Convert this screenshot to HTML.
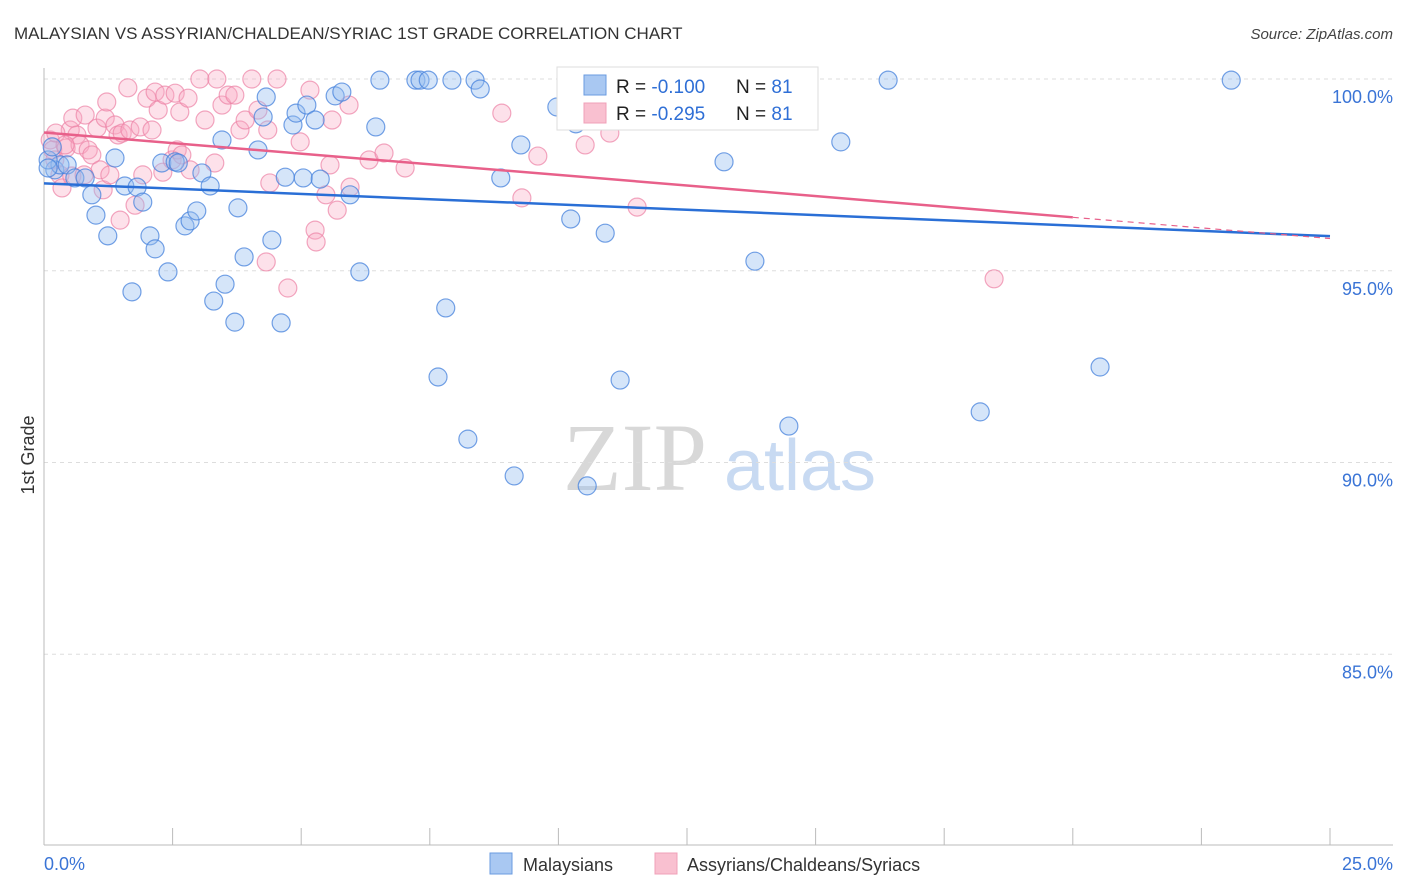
<!DOCTYPE html>
<html><head><meta charset="utf-8"><style>
body{margin:0;background:#fff;font-family:"Liberation Sans",sans-serif;}
svg{display:block}
</style></head><body>
<svg id="chart" width="1406" height="892" xmlns="http://www.w3.org/2000/svg">
<text x="14" y="39" font-size="17" fill="#333">MALAYSIAN VS ASSYRIAN/CHALDEAN/SYRIAC 1ST GRADE CORRELATION CHART</text>
<text x="1393" y="39" font-size="15" fill="#444" font-style="italic" text-anchor="end">Source: ZipAtlas.com</text>
<g>
<text x="635" y="490" font-size="96" fill="#d8d8d8" font-family="Liberation Serif,serif" text-anchor="middle">ZIP</text>
<text x="800" y="490" font-size="72" fill="#c8daf2" text-anchor="middle">atlas</text>
</g>
<g id="grid"></g>
<g id="axes"></g>
<g id="marks"></g>
<text x="34" y="455" font-size="18" fill="#333" text-anchor="middle" transform="rotate(-90 34 455)">1st Grade</text>
<g>
<rect x="557" y="67" width="261" height="63" fill="#fff" stroke="#ddd"/>
<rect x="584" y="75" width="22" height="20" fill="#a9c8f2" stroke="#6a9be0"/>
<rect x="584" y="103" width="22" height="20" fill="#f9c0d0" stroke="#f0a0b8"/>
<text x="616" y="93" font-size="19" fill="#222">R = <tspan fill="#2f6fd6">-0.100</tspan></text>
<text x="736" y="93" font-size="19" fill="#222">N = <tspan fill="#2f6fd6">81</tspan></text>
<text x="616" y="120" font-size="19" fill="#222">R = <tspan fill="#2f6fd6">-0.295</tspan></text>
<text x="736" y="120" font-size="19" fill="#222">N = <tspan fill="#2f6fd6">81</tspan></text>
</g>
<g>
<rect x="490" y="853" width="22" height="21" fill="#a9c8f2" stroke="#6a9be0"/>
<text x="523" y="871" font-size="18" fill="#333">Malaysians</text>
<rect x="655" y="853" width="22" height="21" fill="#f9c0d0" stroke="#f0a0b8"/>
<text x="687" y="871" font-size="18" fill="#333">Assyrians/Chaldeans/Syriacs</text>
</g>
</svg>
<script>
const blueX=[0.21,0.31,0.45,0.60,0.80,0.93,1.01,1.24,1.38,1.57,1.71,1.81,1.92,2.06,2.16,2.29,2.41,2.55,2.61,2.74,2.84,2.97,3.07,3.23,3.30,3.46,3.52,3.71,3.77,3.89,4.16,4.26,4.32,4.43,4.61,4.69,4.84,4.90,5.04,5.11,5.27,5.37,5.66,5.79,5.95,6.14,6.45,6.53,7.23,7.31,7.47,7.93,8.38,8.48,7.66,7.81,8.24,8.88,9.14,9.27,9.97,10.24,10.56,10.81,10.91,11.20,11.51,13.22,13.82,14.09,14.48,15.49,16.41,18.20,20.53,23.08,10.34,0.08,0.08,0.16];
const blueY=[97.63,97.76,97.76,97.42,97.42,96.98,96.45,95.91,97.94,97.21,94.45,97.18,96.79,95.91,95.57,97.81,94.97,97.84,97.81,96.17,96.30,96.56,97.55,97.21,94.21,98.41,94.65,93.66,96.64,95.36,98.15,99.01,99.53,95.80,93.64,97.44,98.80,99.11,97.42,99.32,98.93,97.39,99.56,99.66,96.98,94.97,98.75,99.97,99.97,99.97,99.97,99.97,99.97,99.74,92.23,94.03,90.61,97.42,89.65,98.28,99.27,96.35,89.39,99.61,95.98,92.15,99.97,97.84,95.25,99.97,90.95,98.36,99.97,91.32,92.49,99.97,98.83,97.89,97.68,98.23];
const pinkX=[0.12,0.17,0.21,0.31,0.35,0.43,0.51,0.56,0.64,0.70,0.80,0.86,0.93,1.03,1.09,1.15,1.19,1.22,1.28,1.38,1.44,1.52,1.48,1.63,1.67,1.77,1.87,1.92,2.00,2.10,2.16,2.22,2.31,2.35,2.49,2.55,2.59,2.64,2.68,2.84,2.80,3.03,3.13,3.32,3.36,3.46,3.58,3.71,3.81,3.91,4.04,4.16,4.35,4.39,4.32,4.53,4.74,4.98,5.17,5.27,5.29,5.48,5.56,5.60,5.70,5.93,5.95,6.32,6.61,7.02,8.90,9.29,9.60,10.52,11.00,11.53,18.47,0.23,0.41,0.54,0.78];
const pinkY=[98.41,98.15,97.89,97.50,97.16,98.20,98.67,98.98,98.54,98.28,99.06,98.15,98.02,98.72,97.63,97.11,98.98,99.40,97.50,98.80,98.54,98.59,96.32,99.77,98.67,96.71,98.75,97.50,99.50,98.67,99.66,99.19,97.57,99.58,97.89,99.63,98.15,99.14,98.02,97.63,99.50,100,98.93,97.81,100,99.32,99.58,99.58,98.67,98.93,100,99.19,98.67,97.29,95.23,100,94.55,98.36,99.71,96.06,95.75,96.98,97.76,98.93,96.58,99.32,97.18,97.89,98.07,97.68,99.11,96.90,97.99,98.28,98.59,96.66,94.79,98.59,98.28,97.47,97.50];
const yTicks=[100,95,90,85];
const yTickLabels=["100.0%","95.0%","90.0%","85.0%"];
const xTickLabels=["0.0%","25.0%"];

const NS="http://www.w3.org/2000/svg";
const X0=44,X1=1330,Y100=79,PER=38.35;
const sx=v=>X0+(v/25)*(X1-X0);
const sy=v=>Y100+(100-v)*PER;
function mk(tag,attrs,parent){const e=document.createElementNS(NS,tag);for(const k in attrs)e.setAttribute(k,attrs[k]);parent.appendChild(e);return e;}
const grid=document.getElementById('grid'),axes=document.getElementById('axes'),marks=document.getElementById('marks');
yTicks.forEach((t,i)=>{
 const l=mk('line',{x1:X0,x2:1393,y1:sy(t),y2:sy(t),stroke:'#ddd','stroke-dasharray':'4,4'},grid);
 
 
 const tx=mk('text',{x:1393,y:sy(t)+24,'font-size':18,fill:'#3a74d6','text-anchor':'end'},axes);
 tx.textContent=yTickLabels[i];
 
 
});
const ax=mk('line',{x1:X0,x2:1393,y1:845,y2:845,stroke:'#bbb'},axes);


const ay=mk('line',{x1:X0,x2:X0,y1:68,y2:845,stroke:'#bbb'},axes);


for(let i=0;i<=10;i++){
 const x=sx(i*2.5);
 const tk=mk('line',{x1:x,x2:x,y1:828,y2:845,stroke:'#bbb'},axes);
 
 
}
[[0,'start',X0],[25,'end',1393]].forEach((d,i)=>{
 const t=mk('text',{x:d[2],y:870,'font-size':18,fill:'#3a74d6','text-anchor':d[1]},axes);
 t.textContent=xTickLabels[i];
 
 
});
function dots(xs,ys,fill,stroke,name){
 xs.forEach((v,i)=>{
  const c=mk('circle',{cx:sx(v),cy:sy(ys[i]),r:9,fill:fill,stroke:stroke,'stroke-width':1.2},marks);
  
  
 });
}
function reg(xs,ys){const n=xs.length;let mx=0,my=0;xs.forEach((v,i)=>{mx+=v;my+=ys[i];});mx/=n;my/=n;let sxy=0,sxx=0;xs.forEach((v,i)=>{sxy+=(v-mx)*(ys[i]-my);sxx+=(v-mx)*(v-mx);});const b=sxy/sxx;return [my-b*mx,b];}
dots(pinkX,pinkY,'rgba(248,170,195,0.35)','rgba(236,130,165,0.7)','assyrian-point');
dots(blueX,blueY,'rgba(150,190,240,0.4)','rgba(70,130,220,0.75)','malaysian-point');
const [ba,bb]=reg(blueX,blueY);
const bl=mk('line',{x1:sx(0),y1:sy(ba),x2:sx(25),y2:sy(ba+bb*25),stroke:'#2a6fd6','stroke-width':2.5},marks);


const [pa,pb]=reg(pinkX,pinkY);
const pl=mk('line',{x1:sx(0),y1:sy(pa),x2:sx(20),y2:sy(pa+pb*20),stroke:'#e8608a','stroke-width':2.5},marks);


const pd=mk('line',{x1:sx(20),y1:sy(pa+pb*20),x2:sx(25),y2:sy(pa+pb*25),stroke:'#e8608a','stroke-width':1.2,'stroke-dasharray':'6,5'},marks);


</script>
</body></html>
